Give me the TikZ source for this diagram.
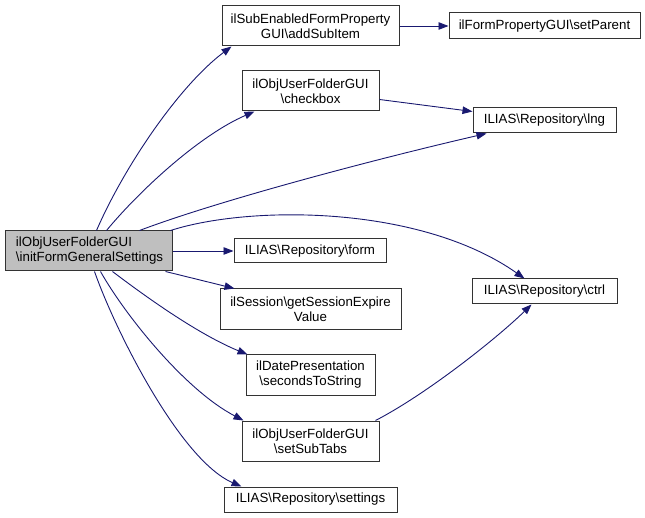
\documentclass[tikz,border=0pt]{standalone}
\usepackage{fontspec}
\setmainfont{Liberation Sans}
\usetikzlibrary{arrows.meta,calc}
\definecolor{edgeblue}{HTML}{191970}
\definecolor{rootfill}{HTML}{BFBFBF}
\definecolor{boxline}{HTML}{333333}
\begin{document}
\begin{tikzpicture}[x=1pt,y=-1pt,
  box/.style={draw=boxline,line width=1pt,fill=white,inner sep=0pt,align=center,
    font=\fontsize{13.3}{15}\selectfont},
  rootbox/.style={box,fill=rootfill,align=left,text width=145pt,inner xsep=11pt},
  edge/.style={draw=edgeblue,line width=0.9pt,-{Triangle[length=10pt,width=7.5pt]}}]
\useasboundingbox (0,0) rectangle (645,518);

\node[rootbox,minimum width=167pt,minimum height=40pt] (main) at (88.5,251)
  {ilObjUserFolderGUI\\\textbackslash initFormGeneralSettings};
\node[box,minimum width=177pt,minimum height=40pt] (add) at (310.5,26)
  {ilSubEnabledFormProperty\\GUI\textbackslash addSubItem};
\node[box,minimum width=137pt,minimum height=40pt] (check) at (310.5,91)
  {ilObjUserFolderGUI\\\textbackslash checkbox};
\node[box,minimum width=152pt,minimum height=24pt] (form) at (310,251)
  {ILIAS\textbackslash Repository\textbackslash form};
\node[box,minimum width=181pt,minimum height=41pt] (sess) at (310.5,309.5)
  {ilSession\textbackslash getSessionExpire\\Value};
\node[box,minimum width=129pt,minimum height=40pt] (secs) at (310.5,375)
  {ilDatePresentation\\\textbackslash secondsToString};
\node[box,minimum width=137pt,minimum height=40pt] (tabs) at (310.5,441)
  {ilObjUserFolderGUI\\\textbackslash setSubTabs};
\node[box,minimum width=173pt,minimum height=25pt] (sett) at (310.5,499.5)
  {ILIAS\textbackslash Repository\textbackslash settings};
\node[box,minimum width=191pt,minimum height=26pt] (par) at (544.5,26)
  {ilFormPropertyGUI\textbackslash setParent};
\node[box,minimum width=143pt,minimum height=25pt] (lng) at (544.5,120.5)
  {ILIAS\textbackslash Repository\textbackslash lng};
\node[box,minimum width=145pt,minimum height=25pt] (ctrl) at (544.5,291.5)
  {ILIAS\textbackslash Repository\textbackslash ctrl};

% edges
\draw[edge] ($(main.north west)+(92,0)$) .. controls (125,165) and (180,85) .. ($(add.south west)+(10,0)$);
\draw[edge] ($(main.north west)+(102,0)$) .. controls (140,190) and (200,135) .. ($(check.south west)+(13,0)$);
\draw[edge] ($(main.north west)+(135,0)$) .. controls (220,200) and (380,158) .. ($(lng.south west)+(14,0)$);
\draw[edge] ($(main.north east)+(-2,0)$) .. controls (250,205) and (420,205) .. ($(ctrl.north west)+(53,0)$);
\draw[edge] (main.east) -- (form.west);
\draw[edge] ($(main.south east)+(-7,0)$) -- ($(sess.north west)+(15,0)$);
\draw[edge] ($(main.south west)+(108,0)$) .. controls (150,300) and (200,335) .. ($(secs.north west)+(2,0)$);
\draw[edge] ($(main.south west)+(96,0)$) .. controls (125,315) and (185,390) .. ($(tabs.north west)+(2,0)$);
\draw[edge] ($(main.south west)+(90,0)$) .. controls (115,330) and (180,460) .. ($(sett.north west)+(18,0)$);
\draw[edge] (add.east) -- (par.west);
\draw[edge] ($(check.south east)+(0,-12)$) -- ($(lng.west)+(0,-9)$);
\draw[edge] ($(tabs.north east)+(-4,0)$) .. controls (425,395) and (495,340) .. ($(ctrl.south west)+(60,0)$);
\end{tikzpicture}
\end{document}
